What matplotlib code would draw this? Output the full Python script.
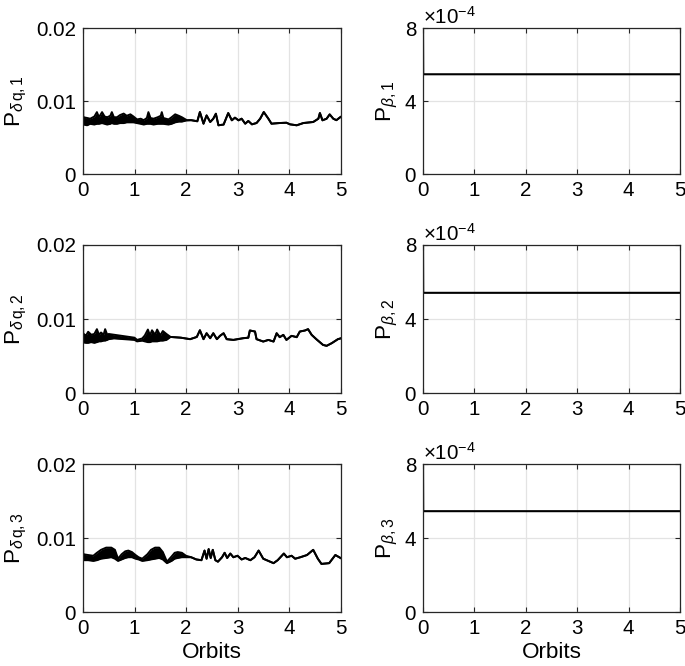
import matplotlib
matplotlib.use("Agg")
import matplotlib.pyplot as plt

plt.rcParams['font.family'] = ['Liberation Sans', 'DejaVu Sans']
plt.rcParams['mathtext.fontset'] = 'custom'
plt.rcParams['mathtext.rm'] = 'Liberation Sans'
plt.rcParams['mathtext.it'] = 'Liberation Sans:italic'
plt.rcParams['mathtext.bf'] = 'Liberation Sans:bold'

# ---------------- data ----------------
# Left column: envelope (lower / upper) of P_{delta q,i} vs orbits
dq1_t  = [0, 0.003, 0.01, 0.08, 0.14, 0.22, 0.27, 0.31, 0.37, 0.42, 0.47, 0.53, 0.56, 0.60, 0.66, 0.72, 0.79, 0.85, 0.92, 0.98, 1.05, 1.12, 1.18, 1.24, 1.27, 1.31, 1.37, 1.45, 1.51, 1.53, 1.56, 1.66, 1.72, 1.79, 1.86, 1.92,
          2.02, 2.10, 2.22, 2.27, 2.34, 2.40, 2.47, 2.53, 2.58, 2.63, 2.73, 2.82, 2.89, 2.95, 3.02, 3.08, 3.15, 3.21, 3.28, 3.37,
          3.44, 3.51, 3.60, 3.66, 3.82, 3.95, 4.02, 4.15, 4.28, 4.47, 4.57, 4.60, 4.65, 4.73, 4.79, 4.86, 4.92, 5.00]
dq1_lo = [0.020, 0.0075, 0.0068, 0.0067, 0.0069, 0.0068, 0.0069, 0.0069, 0.0070, 0.0069, 0.0068, 0.0069, 0.0070, 0.0069, 0.0069, 0.0070, 0.0070, 0.0071, 0.0071, 0.0071, 0.0070, 0.0069, 0.0068, 0.0069, 0.0069, 0.0069, 0.0068, 0.0069, 0.0069, 0.0069, 0.0069, 0.0068, 0.0069, 0.0071, 0.0072, 0.0072,
          0.00738, 0.00740, 0.00725, 0.00851, 0.00692, 0.00805, 0.00715, 0.00760, 0.00828, 0.00670, 0.00680, 0.00837, 0.00738, 0.00774, 0.00738, 0.00760, 0.00692, 0.00729, 0.00683, 0.00701,
          0.00760, 0.00851, 0.00760, 0.00692, 0.00701, 0.00705, 0.00683, 0.00670, 0.00701, 0.00715, 0.00760, 0.00837, 0.00738, 0.00760, 0.00819, 0.00760, 0.00740, 0.00783]
dq1_hi = [0.020, 0.0075, 0.0078, 0.0077, 0.0076, 0.0079, 0.0085, 0.0078, 0.0085, 0.0079, 0.0078, 0.0080, 0.0085, 0.0078, 0.0078, 0.0081, 0.0083, 0.0080, 0.0082, 0.0079, 0.0075, 0.0076, 0.0074, 0.0077, 0.0085, 0.0077, 0.0076, 0.0078, 0.0080, 0.0085, 0.0077, 0.0075, 0.0078, 0.0082, 0.0080, 0.0078,
          0.00738, 0.00740, 0.00725, 0.00851, 0.00692, 0.00805, 0.00715, 0.00760, 0.00828, 0.00670, 0.00680, 0.00837, 0.00738, 0.00774, 0.00738, 0.00760, 0.00692, 0.00729, 0.00683, 0.00701,
          0.00760, 0.00851, 0.00760, 0.00692, 0.00701, 0.00705, 0.00683, 0.00670, 0.00701, 0.00715, 0.00760, 0.00837, 0.00738, 0.00760, 0.00819, 0.00760, 0.00740, 0.00783]

dq2_t  = [0, 0.003, 0.01, 0.06, 0.10, 0.16, 0.22, 0.27, 0.31, 0.35, 0.40, 0.43, 0.47, 0.50, 0.60, 0.80, 1.00, 1.05, 1.15, 1.20, 1.26, 1.30, 1.34, 1.40, 1.44, 1.50, 1.55, 1.62, 1.70,
          1.90, 2.08, 2.21, 2.27, 2.34, 2.40, 2.47, 2.53, 2.60, 2.66, 2.73, 2.79, 2.92, 3.11, 3.21, 3.24, 3.34, 3.37,
          3.50, 3.60, 3.70, 3.76, 3.82, 3.89, 3.95, 4.05, 4.15, 4.21, 4.31, 4.37, 4.44, 4.53, 4.66, 4.73, 4.83, 4.95, 5.00]
dq2_lo = [0.020, 0.0075, 0.00685, 0.0068, 0.0068, 0.0069, 0.0068, 0.0069, 0.0070, 0.0070, 0.0071, 0.0071, 0.0072, 0.0073, 0.0074, 0.0073, 0.0072, 0.0070, 0.0071, 0.0070, 0.0069, 0.0069, 0.0070, 0.0070, 0.0070, 0.0071, 0.0071, 0.0072, 0.0076,
          0.0075, 0.0073, 0.0076, 0.0085, 0.0073, 0.0081, 0.00743, 0.0081, 0.0073, 0.00775, 0.0081, 0.0073, 0.0072, 0.00743, 0.0075, 0.00847, 0.00833, 0.0073,
          0.00698, 0.0072, 0.00698, 0.0081, 0.00757, 0.00788, 0.0072, 0.00775, 0.00757, 0.00833, 0.00847, 0.00865, 0.00788, 0.0073, 0.00653, 0.0064, 0.00676, 0.0073, 0.0074]
dq2_hi = [0.020, 0.0075, 0.0080, 0.0078, 0.0083, 0.0079, 0.0080, 0.00865, 0.0079, 0.0082, 0.0079, 0.00865, 0.0079, 0.0080, 0.0079, 0.0077, 0.0075, 0.0072, 0.0074, 0.0078, 0.0086, 0.0078, 0.0085, 0.0079, 0.0086, 0.0078, 0.0084, 0.0080, 0.0076,
          0.0075, 0.0073, 0.0076, 0.0085, 0.0073, 0.0081, 0.00743, 0.0081, 0.0073, 0.00775, 0.0081, 0.0073, 0.0072, 0.00743, 0.0075, 0.00847, 0.00833, 0.0073,
          0.00698, 0.0072, 0.00698, 0.0081, 0.00757, 0.00788, 0.0072, 0.00775, 0.00757, 0.00833, 0.00847, 0.00865, 0.00788, 0.0073, 0.00653, 0.0064, 0.00676, 0.0073, 0.0074]

dq3_t  = [0, 0.003, 0.01, 0.10, 0.20, 0.27, 0.35, 0.45, 0.55, 0.62, 0.68, 0.75, 0.82, 0.88, 0.95, 1.02, 1.08, 1.15, 1.25, 1.32, 1.40, 1.48, 1.55, 1.63, 1.72, 1.78, 1.84, 1.92, 2.00,
          2.10, 2.20, 2.30, 2.36, 2.40, 2.44, 2.48, 2.52, 2.57, 2.62, 2.70, 2.75, 2.80, 2.86, 2.92, 3.00, 3.08, 3.15, 3.25, 3.33,
          3.41, 3.50, 3.60, 3.70, 3.78, 3.90, 3.96, 4.05, 4.12, 4.22, 4.35, 4.47, 4.56, 4.63, 4.78, 4.90, 5.00]
dq3_lo = [0.020, 0.0075, 0.0070, 0.0070, 0.0069, 0.0070, 0.0072, 0.0073, 0.0074, 0.0072, 0.0069, 0.0071, 0.0073, 0.0074, 0.0074, 0.0072, 0.0071, 0.0069, 0.0070, 0.0071, 0.0072, 0.0073, 0.0071, 0.0066, 0.0069, 0.0072, 0.0073, 0.0074, 0.0074,
          0.0074, 0.0071, 0.0070, 0.0083, 0.0072, 0.0085, 0.0073, 0.0084, 0.0070, 0.0068, 0.0074, 0.0080, 0.0073, 0.0079, 0.0074, 0.0076, 0.0071, 0.0073, 0.0070, 0.0074,
          0.0083, 0.0072, 0.0069, 0.0066, 0.0070, 0.0079, 0.0074, 0.0076, 0.0072, 0.0074, 0.0077, 0.0084, 0.0072, 0.0065, 0.0066, 0.0077, 0.0073]
dq3_hi = [0.020, 0.0075, 0.0078, 0.0077, 0.0076, 0.0080, 0.0084, 0.0087, 0.0087, 0.0084, 0.0072, 0.0078, 0.0082, 0.0083, 0.0081, 0.0077, 0.0074, 0.0072, 0.0078, 0.0084, 0.0087, 0.0087, 0.0081, 0.0068, 0.0075, 0.0080, 0.0081, 0.0080, 0.0076,
          0.0074, 0.0071, 0.0070, 0.0083, 0.0072, 0.0085, 0.0073, 0.0084, 0.0070, 0.0068, 0.0074, 0.0080, 0.0073, 0.0079, 0.0074, 0.0076, 0.0071, 0.0073, 0.0070, 0.0074,
          0.0083, 0.0072, 0.0069, 0.0066, 0.0070, 0.0079, 0.0074, 0.0076, 0.0072, 0.0074, 0.0077, 0.0084, 0.0072, 0.0065, 0.0066, 0.0077, 0.0073]

# Right column: P_{beta,i} (units of 1e-4)
beta_t  = [0, 0.004, 5.0]
beta1   = [8.0, 5.47, 5.47]
beta2   = [8.0, 5.42, 5.42]
beta3   = [8.0, 5.45, 5.45]

left_series  = [(dq1_t, dq1_lo, dq1_hi), (dq2_t, dq2_lo, dq2_hi), (dq3_t, dq3_lo, dq3_hi)]
right_series = [beta1, beta2, beta3]
left_labels  = [r'P$_{\delta\,\mathrm{q,1}}$', r'P$_{\delta\,\mathrm{q,2}}$', r'P$_{\delta\,\mathrm{q,3}}$']
right_labels = [r'P$_{\beta\mathrm{,1}}$', r'P$_{\beta\mathrm{,2}}$', r'P$_{\beta\mathrm{,3}}$']
xticks = [0, 1, 2, 3, 4, 5]
left_yticks = [0, 0.01, 0.02]
left_yticklabels = ['0', '0.01', '0.02']
right_yticks = [0, 4, 8]
right_yticklabels = ['0', '4', '8']
xlabel_text = 'Orbits'

# ---------------- figure ----------------
W, H = 685, 666
fig = plt.figure(figsize=(W / 100, H / 100), dpi=100)

row_box = [(28.0, 174.3), (245.0, 393.3), (464.0, 612.0)]   # top, bottom in pixels
col_box = [(83.0, 340.5), (423.0, 680.0)]                    # left, right in pixels

SPINE = '#262626'
GRID = '#e3e3e3'
TICK_FS = 14.8
LABEL_FS = 16.2


def style_axes(ax):
    for s in ax.spines.values():
        s.set_color(SPINE)
        s.set_linewidth(0.9)
    ax.tick_params(direction='in', length=3.5, width=0.8, colors=SPINE,
                   labelcolor='black', labelsize=TICK_FS, top=True, right=True)
    ax.tick_params(axis='x', pad=5)
    ax.tick_params(axis='y', pad=5)
    ax.grid(True, color=GRID, linewidth=0.9)
    ax.set_axisbelow(True)


for r in range(3):
    top, bot = row_box[r]
    for c in range(2):
        lft, rgt = col_box[c]
        ax = fig.add_axes([lft / W, 1 - bot / H, (rgt - lft) / W, (bot - top) / H])
        style_axes(ax)
        ax.set_xlim(0, 5)
        ax.set_xticks(xticks)
        if c == 0:
            t, lo, hi = left_series[r]
            ax.fill_between(t, lo, hi, color='black', linewidth=0)
            ax.plot(t, lo, color='black', linewidth=1.4, solid_joinstyle='round')
            ax.plot(t, hi, color='black', linewidth=1.4, solid_joinstyle='round')
            ax.set_ylim(0, 0.02)
            ax.set_yticks(left_yticks)
            ax.set_yticklabels(left_yticklabels)
            ax.set_ylabel(left_labels[r], fontsize=LABEL_FS)
            ax.yaxis.set_label_coords(-0.208, 0.5)
        else:
            ax.plot(beta_t, right_series[r], color='black', linewidth=1.5)
            ax.set_ylim(0, 8)
            ax.set_yticks(right_yticks)
            ax.set_yticklabels(right_yticklabels)
            ax.set_ylabel(right_labels[r], fontsize=LABEL_FS)
            ax.yaxis.set_label_coords(-0.088, 0.5)
            ax.text(0.0, 1.0, r'$\times$10$^{-4}$', transform=ax.transAxes,
                    fontsize=TICK_FS, ha='left', va='bottom')
        if r == 2:
            ax.set_xlabel(xlabel_text, fontsize=LABEL_FS, labelpad=3)

fig.savefig('out.png', dpi=100)
